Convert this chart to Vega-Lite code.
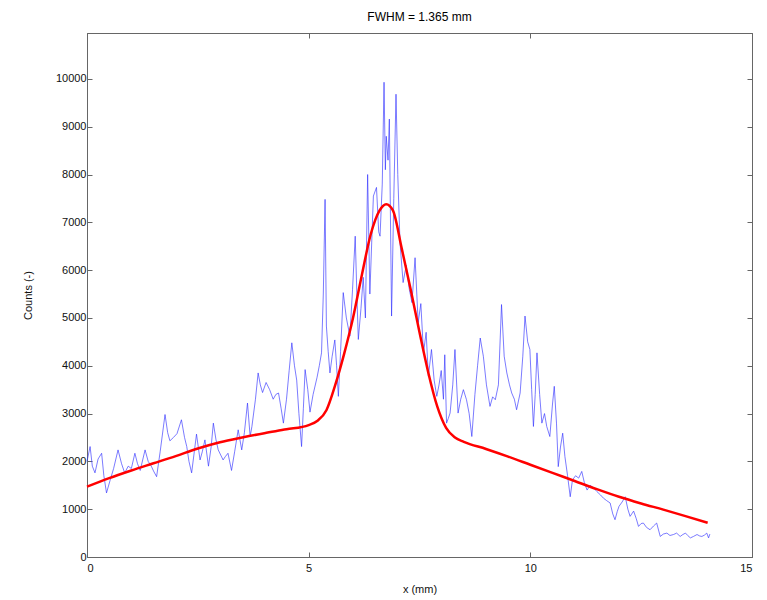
{
  "$schema": "https://vega.github.io/schema/vega-lite/v6.json",
  "width": 665,
  "height": 524,
  "autosize": "none",
  "padding": {"left": 87, "top": 33, "right": 15, "bottom": 43},
  "background": "white",
  "title": {"text": "FWHM = 1.365 mm", "fontSize": 12, "fontWeight": "normal", "font": "Liberation Sans", "color": "#000", "offset": 9},
  "config": {
    "view": {"stroke": "#666", "strokeWidth": 1},
    "axis": {"grid": false, "domainColor": "#666", "tickColor": "#666", "tickSize": -5, "labelFont": "Liberation Sans", "labelFontSize": 11, "labelColor": "#111", "titleFont": "Liberation Sans", "titleFontSize": 11, "titleFontWeight": "normal", "titleColor": "#111"}
  },
  "datasets": {
    "counts": [
      {"x":0.0,"v":2000},{"x":0.07,"v":2310},{"x":0.12,"v":1900},{"x":0.18,"v":1760},{"x":0.25,"v":2050},{"x":0.33,"v":2170},{"x":0.38,"v":1700},{"x":0.44,"v":1340},{"x":0.52,"v":1600},{"x":0.6,"v":1850},{"x":0.7,"v":2240},{"x":0.78,"v":1950},{"x":0.85,"v":1760},{"x":0.93,"v":1900},{"x":1.0,"v":1850},{"x":1.08,"v":2170},{"x":1.14,"v":1950},{"x":1.2,"v":1810},{"x":1.31,"v":2240},{"x":1.38,"v":2000},{"x":1.45,"v":1900},{"x":1.5,"v":1800},{"x":1.57,"v":1680},{"x":1.65,"v":2200},{"x":1.76,"v":2980},{"x":1.82,"v":2600},{"x":1.87,"v":2430},{"x":1.95,"v":2500},{"x":2.03,"v":2580},{"x":2.13,"v":2870},{"x":2.2,"v":2500},{"x":2.25,"v":2310},{"x":2.3,"v":2000},{"x":2.36,"v":1760},{"x":2.42,"v":2200},{"x":2.47,"v":2570},{"x":2.55,"v":2030},{"x":2.6,"v":2200},{"x":2.66,"v":2450},{"x":2.74,"v":1900},{"x":2.8,"v":2300},{"x":2.85,"v":2800},{"x":2.91,"v":2450},{"x":2.96,"v":2240},{"x":3.07,"v":2030},{"x":3.12,"v":2100},{"x":3.18,"v":2170},{"x":3.26,"v":1810},{"x":3.33,"v":2200},{"x":3.41,"v":2660},{"x":3.49,"v":2240},{"x":3.55,"v":2600},{"x":3.62,"v":3220},{"x":3.68,"v":2520},{"x":3.72,"v":2730},{"x":3.8,"v":3300},{"x":3.86,"v":3850},{"x":3.91,"v":3600},{"x":3.96,"v":3440},{"x":4.04,"v":3650},{"x":4.12,"v":3500},{"x":4.2,"v":3300},{"x":4.26,"v":3400},{"x":4.32,"v":3430},{"x":4.38,"v":3100},{"x":4.43,"v":2800},{"x":4.5,"v":3300},{"x":4.56,"v":3900},{"x":4.62,"v":4480},{"x":4.68,"v":4000},{"x":4.73,"v":3700},{"x":4.78,"v":3000},{"x":4.84,"v":2310},{"x":4.88,"v":3100},{"x":4.92,"v":3920},{"x":4.98,"v":3500},{"x":5.03,"v":3030},{"x":5.1,"v":3400},{"x":5.19,"v":3760},{"x":5.24,"v":4000},{"x":5.29,"v":4270},{"x":5.33,"v":5500},{"x":5.37,"v":7480},{"x":5.4,"v":4830},{"x":5.44,"v":4300},{"x":5.48,"v":3850},{"x":5.53,"v":4200},{"x":5.59,"v":4540},{"x":5.63,"v":4000},{"x":5.67,"v":3360},{"x":5.72,"v":4300},{"x":5.78,"v":5530},{"x":5.85,"v":5000},{"x":5.93,"v":4620},{"x":5.99,"v":5600},{"x":6.05,"v":6710},{"x":6.09,"v":5400},{"x":6.12,"v":4550},{"x":6.18,"v":5200},{"x":6.23,"v":5850},{"x":6.28,"v":5000},{"x":6.33,"v":8000},{"x":6.38,"v":5500},{"x":6.46,"v":7550},{"x":6.53,"v":7730},{"x":6.58,"v":6800},{"x":6.61,"v":6710},{"x":6.66,"v":7800},{"x":6.7,"v":9930},{"x":6.73,"v":8100},{"x":6.75,"v":8800},{"x":6.79,"v":8300},{"x":6.82,"v":9160},{"x":6.87,"v":5040},{"x":6.92,"v":7500},{"x":6.97,"v":9680},{"x":7.01,"v":8000},{"x":7.06,"v":6580},{"x":7.13,"v":5740},{"x":7.2,"v":6100},{"x":7.27,"v":5600},{"x":7.33,"v":5320},{"x":7.4,"v":6260},{"x":7.47,"v":4900},{"x":7.53,"v":5300},{"x":7.59,"v":4270},{"x":7.65,"v":4700},{"x":7.7,"v":3780},{"x":7.77,"v":4340},{"x":7.83,"v":3700},{"x":7.89,"v":3360},{"x":7.94,"v":3600},{"x":7.99,"v":3900},{"x":8.04,"v":3300},{"x":8.07,"v":4230},{"x":8.11,"v":2800},{"x":8.15,"v":2900},{"x":8.19,"v":3010},{"x":8.25,"v":3600},{"x":8.3,"v":4340},{"x":8.37,"v":3010},{"x":8.43,"v":3300},{"x":8.49,"v":3500},{"x":8.56,"v":3290},{"x":8.62,"v":3000},{"x":8.68,"v":2520},{"x":8.75,"v":3400},{"x":8.81,"v":4000},{"x":8.87,"v":4580},{"x":8.94,"v":4200},{"x":9.01,"v":3600},{"x":9.09,"v":3150},{"x":9.15,"v":3350},{"x":9.21,"v":3290},{"x":9.28,"v":3600},{"x":9.35,"v":5280},{"x":9.41,"v":4200},{"x":9.47,"v":3850},{"x":9.53,"v":3600},{"x":9.58,"v":3430},{"x":9.64,"v":3300},{"x":9.69,"v":3080},{"x":9.77,"v":3430},{"x":9.83,"v":4200},{"x":9.88,"v":5040},{"x":9.94,"v":4500},{"x":9.99,"v":4340},{"x":10.03,"v":3500},{"x":10.07,"v":2730},{"x":10.11,"v":3400},{"x":10.15,"v":4270},{"x":10.21,"v":3400},{"x":10.26,"v":2800},{"x":10.32,"v":3000},{"x":10.37,"v":2730},{"x":10.44,"v":2520},{"x":10.5,"v":3200},{"x":10.54,"v":3570},{"x":10.59,"v":2800},{"x":10.63,"v":1890},{"x":10.68,"v":2300},{"x":10.73,"v":2590},{"x":10.78,"v":2100},{"x":10.84,"v":1700},{"x":10.9,"v":1260},{"x":10.95,"v":1610},{"x":11.02,"v":1700},{"x":11.09,"v":1650},{"x":11.16,"v":1790},{"x":11.22,"v":1550},{"x":11.28,"v":1400},{"x":11.35,"v":1500},{"x":11.42,"v":1450},{"x":11.5,"v":1370},{"x":11.58,"v":1300},{"x":11.65,"v":1230},{"x":11.72,"v":1180},{"x":11.8,"v":1130},{"x":11.86,"v":900},{"x":11.91,"v":780},{"x":11.96,"v":950},{"x":12.0,"v":1060},{"x":12.07,"v":1150},{"x":12.14,"v":1260},{"x":12.2,"v":1000},{"x":12.25,"v":850},{"x":12.33,"v":960},{"x":12.39,"v":800},{"x":12.44,"v":640},{"x":12.5,"v":700},{"x":12.55,"v":710},{"x":12.62,"v":620},{"x":12.7,"v":570},{"x":12.78,"v":650},{"x":12.85,"v":710},{"x":12.93,"v":430},{"x":13.0,"v":480},{"x":13.08,"v":500},{"x":13.15,"v":450},{"x":13.23,"v":470},{"x":13.3,"v":500},{"x":13.38,"v":430},{"x":13.44,"v":470},{"x":13.5,"v":500},{"x":13.55,"v":450},{"x":13.61,"v":400},{"x":13.68,"v":430},{"x":13.76,"v":470},{"x":13.82,"v":440},{"x":13.87,"v":430},{"x":13.93,"v":460},{"x":13.98,"v":500},{"x":14.02,"v":400},{"x":14.05,"v":480}
    ],
    "fit": [
      {"x":0.0,"v":1470},{"x":0.5,"v":1650},{"x":1.0,"v":1810},{"x":1.5,"v":1960},{"x":2.0,"v":2110},{"x":2.5,"v":2270},{"x":3.0,"v":2400},{"x":3.5,"v":2500},{"x":4.0,"v":2590},{"x":4.5,"v":2670},{"x":5.0,"v":2760},{"x":5.2,"v":2850},{"x":5.4,"v":3070},{"x":5.6,"v":3600},{"x":5.8,"v":4250},{"x":6.0,"v":5000},{"x":6.2,"v":5900},{"x":6.4,"v":6750},{"x":6.6,"v":7250},{"x":6.75,"v":7380},{"x":6.9,"v":7250},{"x":7.1,"v":6450},{"x":7.3,"v":5600},{"x":7.5,"v":4700},{"x":7.7,"v":3850},{"x":7.9,"v":3150},{"x":8.1,"v":2700},{"x":8.3,"v":2500},{"x":8.5,"v":2410},{"x":9.0,"v":2260},{"x":9.5,"v":2100},{"x":10.0,"v":1930},{"x":10.5,"v":1760},{"x":11.0,"v":1590},{"x":11.5,"v":1420},{"x":12.0,"v":1260},{"x":12.5,"v":1120},{"x":13.0,"v":990},{"x":13.5,"v":855},{"x":14.0,"v":715}
    ]
  },
  "layer": [
    {
      "data": {"name": "counts"},
      "mark": {"type": "line", "color": "#3030ff", "strokeWidth": 0.8, "opacity": 0.8},
      "encoding": {
        "x": {"field": "x", "type": "quantitative", "scale": {"domain": [0, 15], "nice": false}, "axis": {"title": "x (mm)", "values": [0, 5, 10, 15], "format": "d", "orient": "bottom", "titlePadding": 10, "labelPadding": 10}},
        "y": {"field": "v", "type": "quantitative", "scale": {"domain": [0, 10960], "nice": false}, "axis": {"title": "Counts (-)", "values": [0,1000,2000,3000,4000,5000,6000,7000,8000,9000,10000], "format": "d", "orient": "left", "titlePadding": 22, "labelPadding": 6}}
      }
    },
    {
      "data": {"name": "fit"},
      "mark": {"type": "line", "color": "#ff0000", "strokeWidth": 2.5, "interpolate": "monotone"},
      "encoding": {
        "x": {"field": "x", "type": "quantitative", "axis": {"orient": "top", "values": [0, 5, 10, 15], "labels": false, "title": null}},
        "y": {"field": "v", "type": "quantitative", "axis": {"orient": "right", "values": [0,1000,2000,3000,4000,5000,6000,7000,8000,9000,10000], "labels": false, "title": null}}
      }
    }
  ],
  "resolve": {"axis": {"x": "independent", "y": "independent"}}
}
